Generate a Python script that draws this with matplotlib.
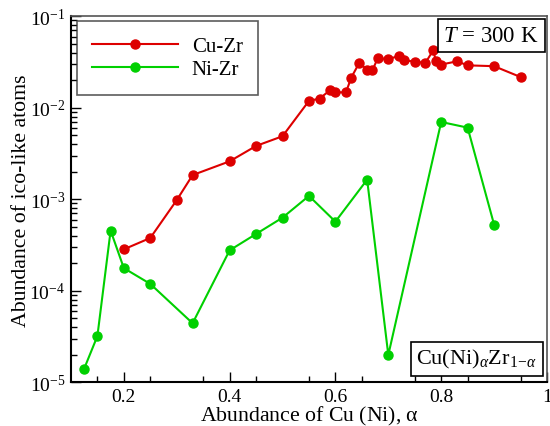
import numpy as np
import matplotlib
matplotlib.use("Agg")
import matplotlib.pyplot as plt
from matplotlib.ticker import FixedLocator, LogLocator, NullFormatter

plt.rcParams['font.family'] = ['Liberation Serif', 'DejaVu Serif']
plt.rcParams['mathtext.fontset'] = 'custom'
plt.rcParams['mathtext.rm'] = 'Liberation Serif'
plt.rcParams['mathtext.it'] = 'Liberation Serif:italic'

# Cu-Zr series
cu_alpha = [0.20, 0.25, 0.30, 0.33, 0.40, 0.45, 0.50, 0.55, 0.57, 0.59,
            0.60, 0.62, 0.63, 0.645, 0.66, 0.67, 0.68, 0.70, 0.72, 0.73,
            0.75, 0.77, 0.785, 0.79, 0.80, 0.83, 0.85, 0.90, 0.95]
cu_abund = [2.84e-4, 3.78e-4, 9.8e-4, 1.84e-3, 2.60e-3, 3.83e-3, 4.89e-3,
            0.0119, 0.0126, 0.0156, 0.0147, 0.0148, 0.0214, 0.0309, 0.0262,
            0.0257, 0.0348, 0.0341, 0.0368, 0.0330, 0.0320, 0.0309, 0.0425,
            0.0324, 0.0297, 0.0322, 0.0291, 0.0285, 0.0217]

# Ni-Zr series
ni_alpha = [0.125, 0.15, 0.175, 0.20, 0.25, 0.33, 0.40, 0.45, 0.50, 0.55,
            0.60, 0.66, 0.70, 0.80, 0.85, 0.90]
ni_abund = [1.41e-5, 3.2e-5, 4.55e-4, 1.77e-4, 1.19e-4, 4.42e-5, 2.77e-4,
            4.18e-4, 6.3e-4, 1.09e-3, 5.7e-4, 1.64e-3, 1.99e-5, 7.0e-3,
            6.07e-3, 5.29e-4]

x_ticks = [0.2, 0.4, 0.6, 0.8, 1.0]
x_tick_labels = ['0.2', '0.4', '0.6', '0.8', '1']
y_ticks = [1e-5, 1e-4, 1e-3, 1e-2, 1e-1]
y_tick_labels = [r'$\mathregular{10^{-5}}$', r'$\mathregular{10^{-4}}$',
                 r'$\mathregular{10^{-3}}$', r'$\mathregular{10^{-2}}$',
                 r'$\mathregular{10^{-1}}$']

red = '#dd0000'
green = '#00d000'

fig = plt.figure(figsize=(5.5, 4.27), dpi=100)
ax = fig.add_axes([0.129, 0.1023, 0.8655, 0.8572])

ax.plot(cu_alpha, cu_abund, '-o', color=red, lw=1.5, ms=6.5, label='Cu-Zr')
ax.plot(ni_alpha, ni_abund, '-o', color=green, lw=1.5, ms=6.5, label='Ni-Zr')

ax.set_yscale('log')
ax.set_xlim(0.1, 1.0)
ax.set_ylim(1e-5, 1e-1)

ax.xaxis.set_major_locator(FixedLocator(x_ticks))
ax.set_xticklabels(x_tick_labels)
ax.xaxis.set_minor_locator(FixedLocator(np.arange(0.15, 1.0, 0.1)))
ax.yaxis.set_major_locator(FixedLocator(y_ticks))
ax.set_yticklabels(y_tick_labels)
ax.yaxis.set_minor_locator(LogLocator(base=10, subs=np.arange(2, 10), numticks=20))
ax.yaxis.set_minor_formatter(NullFormatter())

ax.tick_params(which='both', direction='in', top=False, right=False,
               labelsize=14, colors='black', width=1.0)
ax.tick_params(which='major', length=7, pad=4)
ax.tick_params(which='minor', length=4)

for side in ['left', 'bottom']:
    ax.spines[side].set_linewidth(1.5)
    ax.spines[side].set_color('black')
for side in ['top', 'right']:
    ax.spines[side].set_linewidth(1.2)
    ax.spines[side].set_color('#555555')

ax.set_xlabel(r'Abundance of Cu (Ni), $\mathregular{\alpha}$', fontsize=15.7, labelpad=-1)
ax.set_ylabel('Abundance of ico-like atoms', fontsize=15.7, labelpad=-1)

leg = ax.legend(loc='upper left', bbox_to_anchor=(0.0126, 0.986), fontsize=15,
                frameon=True, fancybox=False, handlelength=4.1,
                borderpad=0.74, labelspacing=0.15, borderaxespad=0,
                handletextpad=0.67)
leg.get_frame().set_edgecolor('#333333')
leg.get_frame().set_linewidth(1.2)

ax.text(0.983, 0.976, r'$T$ = 300 K', transform=ax.transAxes, fontsize=16.5,
        ha='right', va='top',
        bbox=dict(boxstyle='square,pad=0.25', fc='white', ec='black', lw=1.2))
ax.text(0.979, 0.033, r'Cu(Ni)$_{\alpha}$Zr$_{1\!-\!\alpha}$', transform=ax.transAxes,
        fontsize=16, ha='right', va='bottom',
        bbox=dict(boxstyle='square,pad=0.25', fc='white', ec='black', lw=1.2))

fig.savefig('out.png', dpi=100)
